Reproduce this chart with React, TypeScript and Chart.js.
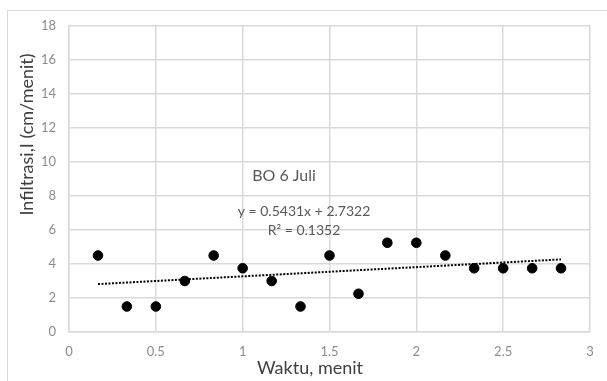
import { useEffect, useRef } from "react";
import { Chart, registerables } from "chart.js";

Chart.register(...registerables);

// ---- data ----
const timeMin = [0.167, 0.333, 0.5, 0.667, 0.833, 1.0, 1.167, 1.333, 1.5, 1.667, 1.833, 2.0, 2.167, 2.333, 2.5, 2.667, 2.833];
const infiltration = [4.5, 1.5, 1.5, 3.0, 4.5, 3.75, 3.0, 1.5, 4.5, 2.25, 5.25, 5.25, 4.5, 3.75, 3.75, 3.75, 3.75];
const trendX = [0.167, 2.833];
const trendY = [2.82, 4.27];
const xTickValues = [0, 0.5, 1, 1.5, 2, 2.5, 3];
const yTickValues = [0, 2, 4, 6, 8, 10, 12, 14, 16, 18];
const seriesLabel = "BO 6 Juli";
const equationLabel = "y = 0.5431x + 2.7322";
const r2Label = "R\u00B2 = 0.1352";
const xTitle = "Waktu, menit";
const yTitle = "Infiltrasi,I (cm/menit)";

const annotationPlugin = {
  id: "annotations",
  afterDraw(chart: any) {
    const ctx = chart.ctx;
    ctx.save();
    ctx.textAlign = "center";
    ctx.textBaseline = "middle";
    // series label
    ctx.fillStyle = "#595959";
    ctx.font = "16px Lato";
    ctx.fillText(seriesLabel, 284, 176);
    // equation
    ctx.font = "14px 'Liberation Sans Narrow', Lato";
    ctx.fillText(equationLabel, 304, 211);
    ctx.fillText(r2Label, 304, 230);
    // axis titles
    ctx.fillStyle = "#404040";
    ctx.font = "18px Lato";
    ctx.fillText(xTitle, 310, 368);
    ctx.translate(27, 134.5);
    ctx.rotate(-Math.PI / 2);
    ctx.fillText(yTitle, 0, 0);
    ctx.restore();
  },
};

export default function App() {
  const ref = useRef<HTMLCanvasElement | null>(null);
  useEffect(() => {
    if (!ref.current) return;
    const chart = new Chart(ref.current, {
      type: "scatter",
      data: {
        datasets: [
          {
            label: seriesLabel,
            data: timeMin.map((x, i) => ({ x, y: infiltration[i] })),
            backgroundColor: "#000000",
            borderColor: "#000000",
            pointRadius: 4.8,
            pointHoverRadius: 4.8,
          },
          {
            label: "Linear",
            data: trendX.map((x, i) => ({ x, y: trendY[i] })),
            showLine: true,
            borderColor: "#000000",
            borderWidth: 2,
            borderDash: [2, 1.5],
            pointRadius: 0,
            fill: false,
          } as any,
        ],
      },
      options: {
        responsive: false,
        animation: false,
        layout: { padding: { top: 26, right: 17, left: 0, bottom: 0 } },
        plugins: {
          legend: { display: false },
          tooltip: { enabled: false },
          title: { display: false },
        },
        scales: {
          x: {
            type: "linear",
            min: 0,
            max: 3,
            afterFit: (s: any) => {
              s.height = 49;
            },
            afterBuildTicks: (s: any) => {
              s.ticks = xTickValues.map((v) => ({ value: v }));
            },
            ticks: {
              padding: 12,
              color: "#8c8c8c",
              font: { family: "Lato", size: 13 },
              callback: (v: any) => String(v),
            },
            grid: { color: "#d9d9d9", lineWidth: 1.5, drawTicks: false },
            border: { color: "#d9d9d9", width: 1.5 },
          },
          y: {
            type: "linear",
            min: 0,
            max: 18,
            afterFit: (s: any) => {
              s.width = 69;
            },
            afterBuildTicks: (s: any) => {
              s.ticks = yTickValues.map((v) => ({ value: v }));
            },
            ticks: {
              padding: 13,
              color: "#8c8c8c",
              font: { family: "Lato", size: 13 },
              callback: (v: any) => String(v),
            },
            grid: { color: "#d9d9d9", lineWidth: 1.5, drawTicks: false },
            border: { color: "#d9d9d9", width: 1.5 },
          },
        },
      },
      plugins: [annotationPlugin],
    });
    return () => chart.destroy();
  }, []);

  return (
    <div style={{ position: "absolute", left: 0, top: 0, width: 607, height: 381, overflow: "hidden", background: "#ffffff" }}>
      <div
        style={{
          position: "absolute",
          left: 7,
          top: 10,
          width: 620,
          height: 400,
          border: "1px solid #d9d9d9",
          boxSizing: "border-box",
        }}
      />
      <canvas ref={ref} width={607} height={381} style={{ position: "absolute", left: 0, top: 0 }} />
    </div>
  );
}
